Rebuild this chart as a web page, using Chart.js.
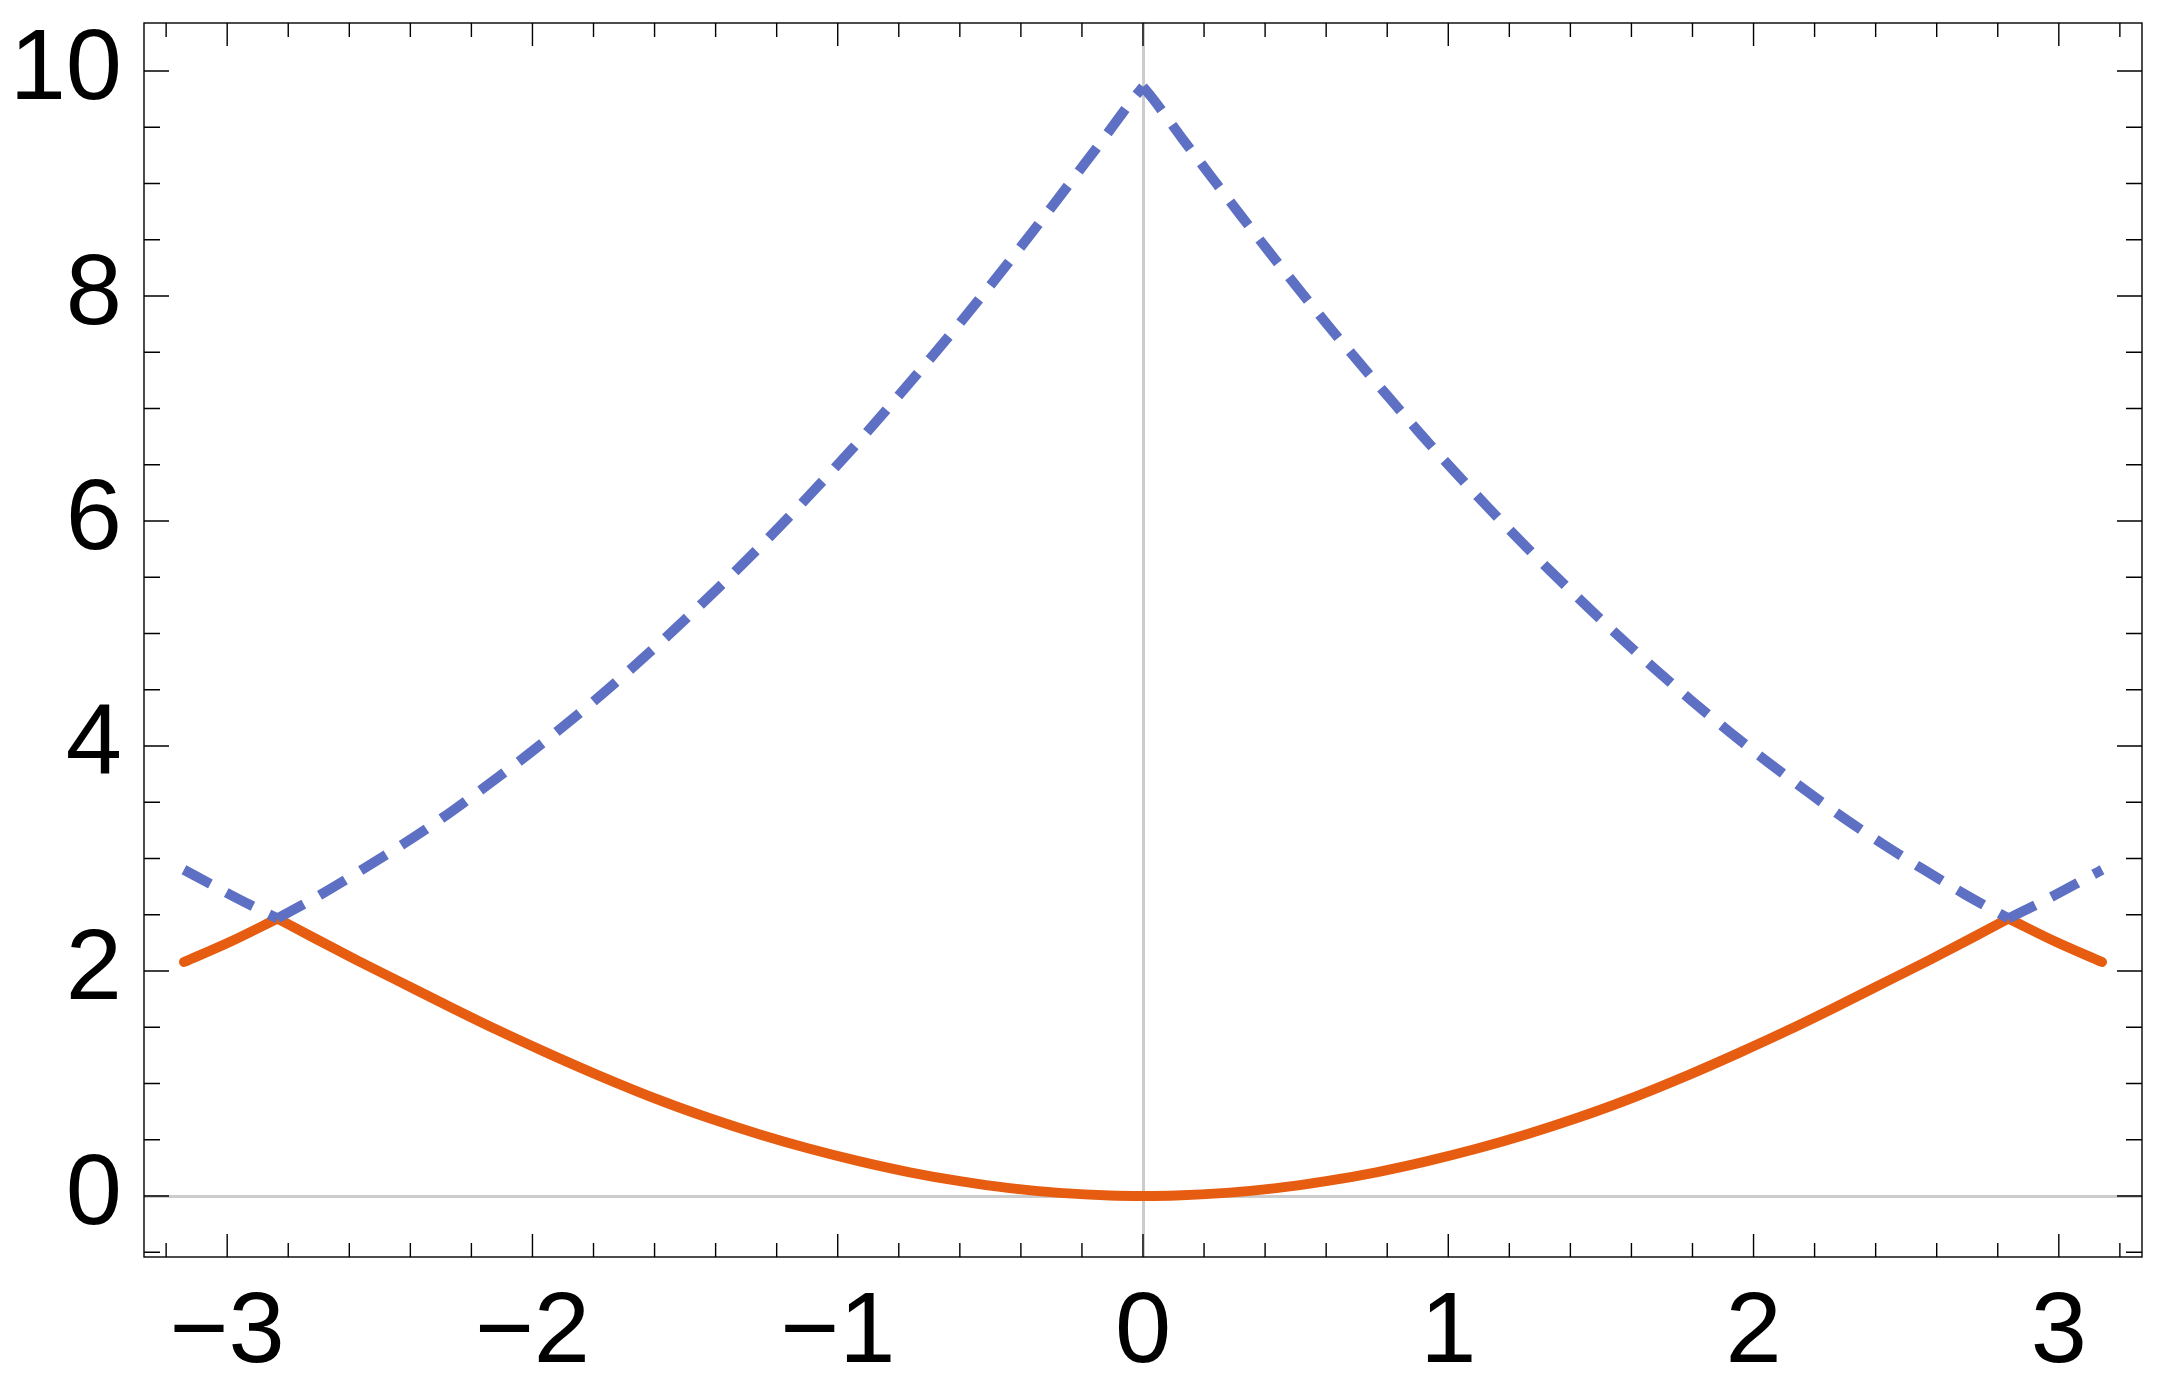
<!DOCTYPE html>
<html>
<head>
<meta charset="utf-8">
<script src="https://cdn.jsdelivr.net/npm/chart.js@4.4.1/dist/chart.umd.min.js"></script>
<style>
  html, body { margin: 0; padding: 0; background: #fff; }
  #wrap { width: 2160px; height: 1386px; }
</style>
</head>
<body>
<div id="wrap"><canvas id="bandChart" width="2160" height="1386"></canvas></div>
<script>
/* Two bands, lower solid / upper dashed, Mathematica-style frame */

const ORANGE = '#E65C10';
const BLUE = '#5E70C4';
const AXIS_GRAY = '#cccccc';
const FONT = { family: 'Liberation Sans', size: 101 };

const X_MIN = -3.2725, X_MAX = 3.2725;
const Y_MIN = -0.542, Y_MAX = 10.427;

const xTicks = [-3, -2, -1, 0, 1, 2, 3];
const yTicks = [0, 2, 4, 6, 8, 10];

// lower band (solid orange); null = break at the kinks
const kLower = [
  -3.1416, -2.99, -2.835,
  -2.835,
  -2.835, -2.718, -2.576, -2.445, -2.281, -2.118, -1.954, -1.79,
  -1.572, -1.419, -1.255, -1.092, -0.928, -0.764, -0.6, -0.437, -0.273, -0.109, 0,
  0.109, 0.273, 0.437, 0.6, 0.764, 0.928, 1.092, 1.255, 1.419, 1.572,
  1.79, 1.954, 2.118, 2.281, 2.445, 2.576, 2.718, 2.835,
  2.835,
  2.835, 2.99, 3.1416,
];
const eLower = [
  2.08, 2.26, 2.467,
  null,
  2.467, 2.298, 2.097, 1.919, 1.696, 1.48, 1.275, 1.08,
  0.84, 0.691, 0.547, 0.42, 0.308, 0.211, 0.132, 0.07, 0.028, 0.004, 0,
  0.004, 0.028, 0.07, 0.132, 0.211, 0.308, 0.42, 0.547, 0.691, 0.84,
  1.08, 1.275, 1.48, 1.696, 1.919, 2.097, 2.298, 2.467,
  null,
  2.467, 2.26, 2.08,
];

// upper band (dashed blue); null = break at the kinks
const kUpper = [
  -3.1416, -3.105, -2.967, -2.835,
  -2.835,
  -2.835, -2.691, -2.556, -2.425, -2.294, -2.169, -2.044,
  -1.921, -1.801, -1.681, -1.561, -1.452, -1.34, -1.23, -1.121, -1.014, -0.909,
  -0.808, -0.706, -0.606, -0.508, -0.41, -0.315, -0.221, -0.126, -0.033, 0,
  0,
  0, 0.033, 0.126, 0.221, 0.315, 0.41, 0.508, 0.606, 0.706, 0.808,
  0.909, 1.014, 1.121, 1.23, 1.34, 1.452, 1.561, 1.681, 1.801, 1.921,
  2.044, 2.169, 2.294, 2.425, 2.556, 2.691, 2.835,
  2.835,
  2.835, 2.967, 3.105, 3.1416,
];
const eUpper = [
  2.9, 2.847, 2.646, 2.467,
  null,
  2.467, 2.684, 2.904, 3.126, 3.363, 3.609, 3.863,
  4.126, 4.394, 4.676, 4.97, 5.248, 5.541, 5.84, 6.148, 6.459, 6.775,
  7.091, 7.415, 7.739, 8.068, 8.403, 8.735, 9.07, 9.41, 9.751, 9.86,
  null,
  9.86, 9.751, 9.41, 9.07, 8.735, 8.403, 8.068, 7.739, 7.415, 7.091,
  6.775, 6.459, 6.148, 5.84, 5.541, 5.248, 4.97, 4.676, 4.394, 4.126,
  3.863, 3.609, 3.363, 3.126, 2.904, 2.684, 2.467,
  null,
  2.467, 2.646, 2.847, 2.9,
];

const toPoints = (xs, ys) => xs.map((x, i) => ({ x, y: ys[i] }));
const fmt = v => (v < 0 ? '\u2212' + Math.abs(v) : String(v));
const zeroLine = c => (c.tick && c.tick.value === 0 ? AXIS_GRAY : 'rgba(0,0,0,0)');

// frame box with inward ticks on all four sides
const frameTicks = {
  id: 'frameTicks',
  afterDraw(chart) {
    const { ctx, chartArea: a, scales: { x, y } } = chart;
    ctx.save();
    ctx.strokeStyle = '#000';
    ctx.lineWidth = 1.4;
    ctx.strokeRect(a.left, a.top, a.right - a.left, a.bottom - a.top);
    ctx.beginPath();
    for (let i = -16; i <= 16; i++) {
      const px = x.getPixelForValue(i / 5);
      const len = i % 5 === 0 ? 23 : 14;
      ctx.moveTo(px, a.bottom); ctx.lineTo(px, a.bottom - len);
      ctx.moveTo(px, a.top); ctx.lineTo(px, a.top + len);
    }
    for (let i = -1; i <= 20; i++) {
      const py = y.getPixelForValue(i / 2);
      const len = i % 4 === 0 ? 25 : 16;
      ctx.moveTo(a.left, py); ctx.lineTo(a.left + len, py);
      ctx.moveTo(a.right, py); ctx.lineTo(a.right - len, py);
    }
    ctx.stroke();
    ctx.restore();
  },
};

new Chart(document.getElementById('bandChart'), {
  type: 'scatter',
  data: {
    datasets: [
      {
        label: 'upper',
        data: toPoints(kUpper, eUpper),
        showLine: true,
        spanGaps: false,
        borderColor: BLUE,
        borderWidth: 10,
        borderDash: [30, 18],
        borderCapStyle: 'butt',
        cubicInterpolationMode: 'monotone',
        pointRadius: 0,
        order: 0,
      },
      {
        label: 'lower',
        data: toPoints(kLower, eLower),
        showLine: true,
        spanGaps: false,
        borderColor: ORANGE,
        borderWidth: 10,
        borderCapStyle: 'round',
        borderJoinStyle: 'round',
        cubicInterpolationMode: 'monotone',
        pointRadius: 0,
        order: 1,
      },
    ],
  },
  options: {
    responsive: false,
    devicePixelRatio: 1,
    animation: false,
    layout: { padding: { top: 23, right: 18, left: 0, bottom: 0 } },
    plugins: { legend: { display: false }, tooltip: { enabled: false } },
    scales: {
      x: {
        type: 'linear',
        min: X_MIN,
        max: X_MAX,
        afterBuildTicks: s => { s.ticks = xTicks.map(value => ({ value })); },
        afterFit: s => { s.height = 129; s.paddingLeft = 0; s.paddingRight = 0; },
        grid: { drawTicks: false, lineWidth: 3, color: zeroLine },
        border: { display: false },
        ticks: { padding: 17, color: '#000', font: FONT, maxRotation: 0, autoSkip: false, callback: v => fmt(v) },
      },
      y: {
        type: 'linear',
        min: Y_MIN,
        max: Y_MAX,
        afterBuildTicks: s => { s.ticks = yTicks.map(value => ({ value })); },
        afterFit: s => { s.width = 144; s.paddingTop = 0; s.paddingBottom = 0; },
        grid: { drawTicks: false, lineWidth: 3, color: zeroLine },
        border: { display: false },
        ticks: { padding: 22, color: '#000', font: FONT, autoSkip: false, callback: v => fmt(v) },
      },
    },
  },
  plugins: [frameTicks],
});
</script>
</body>
</html>
